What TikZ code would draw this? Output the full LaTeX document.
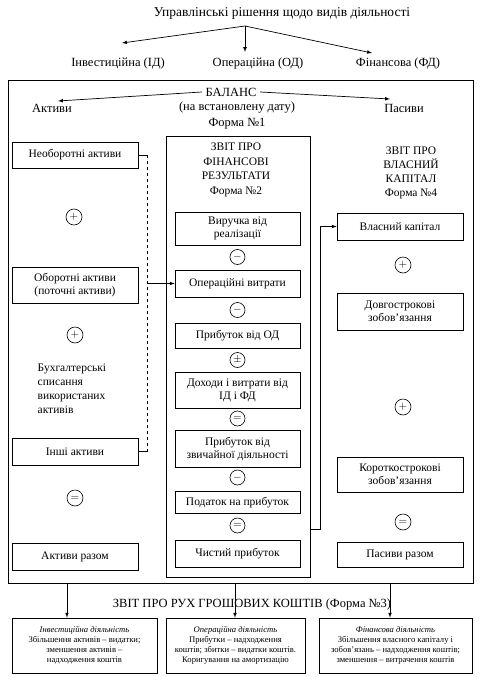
\documentclass[tikz,border=0pt]{standalone}
\usepackage{fontspec}
\setmainfont{Liberation Serif}
\usetikzlibrary{arrows}

\tikzset{
  frame/.style={draw, inner sep=0pt},
  box/.style={draw, minimum width=126, inner sep=1pt, align=center, font=\fontsize{11.5}{13}\selectfont},
  sign/.style={draw, circle, line width=0.6pt, minimum size=15, inner sep=0pt, font=\fontsize{11}{11}\selectfont},
  lbl/.style={align=center, font=\fontsize{12.5}{14}\selectfont},
  head/.style={align=center, font=\fontsize{11.5}{14.5}\selectfont},
  note/.style={draw, minimum height=55, inner sep=1pt, align=center, font=\fontsize{8.6}{10}\selectfont},
}

\begin{document}
\begin{tikzpicture}[x=1pt,y=-1pt,>=latex,line width=0.7pt]
  \useasboundingbox (0,0) rectangle (480,677);

  % top: management decisions
  \node[lbl, font=\fontsize{13.5}{15}\selectfont] (upr) at (282,13) {Управлінські рішення щодо видів діяльності};
  \coordinate (t0) at (245,26);
  \node[lbl] (id) at (118,63) {Інвестиційна (ІД)};
  \node[lbl] (od) at (258,63) {Операційна (ОД)};
  \node[lbl] (fd) at (398,63) {Фінансова (ФД)};
  \coordinate (t1) at (122,43);
  \coordinate (t2) at (245,52);
  \coordinate (t3) at (372,53);
  \draw[->] (t0) -- (t1);
  \draw[->] (t0) -- (t2);
  \draw[->] (t0) -- (t3);

  % frames
  \node[frame, minimum width=465, minimum height=503] (bal) at (240.5,331.5) {};
  \node[frame, minimum width=144, minimum height=441] (mid) at (238,356.5) {};

  % balance
  \node[lbl] (balans) at (231,92) {БАЛАНС};
  \node[lbl] (akt) at (52,108) {Активи};
  \node[lbl] (pas) at (404,108) {Пасиви};
  \node[lbl] (data) at (237,108) {(на встановлену дату)};
  \node[lbl] (f1) at (237,124) {Форма №1};
  \coordinate (b1) at (58,101);
  \coordinate (b2) at (390,99);
  \draw[->] (balans.west) -- (b1);
  \draw[->] (balans.east) -- (b2);

  % assets
  \node[box, minimum height=26] (nonc) at (75,155) {Необоротні активи};
  \node[sign, minimum size=16] (s1) at (74,217) {$+$};
  \node[box, minimum height=36] (curr) at (75,285) {Оборотні активи\\(поточні активи)};
  \node[sign, minimum size=16] (s2) at (75,335) {$+$};
  \node[anchor=north west, align=left, font=\fontsize{11.5}{14}\selectfont] (spys) at (34,360)
    {Бухгалтерські\\списання\\використаних\\активів};
  \node[box, minimum height=27] (other) at (75,451.5) {Інші активи};
  \node[sign, minimum size=16] (s3) at (75,498) {$=$};
  \node[box, minimum height=27] (tota) at (75,556.5) {Активи разом};

  \draw (nonc.east) -- ++(9,0) coordinate (d1);
  \draw (other.east) -- ++(9,0) coordinate (d2);
  \draw[dashed] (d1) -- (d2);

  % financial results
  \node[head] (f2) at (236,170) {ЗВІТ ПРО\\ФІНАНСОВІ\\РЕЗУЛЬТАТИ\\Форма №2};
  \node[box, minimum width=125, minimum height=33] (rev) at (237.5,228.5) {Виручка від\\реалізації};
  \node[sign] (m1) at (237.5,257) {$-$};
  \node[box, minimum width=125, minimum height=27] (opex) at (237.5,283.5) {Операційні витрати};
  \node[sign] (m2) at (237.5,310) {$-$};
  \node[box, minimum width=125, minimum height=25] (prod) at (237.5,335.5) {Прибуток від ОД};
  \node[sign] (m3) at (237.5,360) {$\pm$};
  \node[box, minimum width=125, minimum height=36] (inc) at (237.5,390) {Доходи і витрати від\\ІД і ФД};
  \node[sign] (m4) at (237.5,418.5) {$=$};
  \node[box, minimum width=125, minimum height=37] (pord) at (237.5,448.5) {Прибуток від\\звичайної діяльності};
  \node[sign] (m5) at (237.5,477.5) {$-$};
  \node[box, minimum width=125, minimum height=22] (tax) at (237.5,502.5) {Податок на прибуток};
  \node[sign] (m6) at (237.5,525.5) {$=$};
  \node[box, minimum width=125, minimum height=27] (net) at (237.5,553.5) {Чистий прибуток};

  \draw[->] (d1 |- opex.west) -- (opex.west);

  % equity and liabilities
  \node[head, font=\fontsize{11.5}{14}\selectfont] (f4) at (411,173) {ЗВІТ ПРО\\ВЛАСНИЙ\\КАПІТАЛ\\Форма №4};
  \node[box, minimum height=27] (eq) at (400,226.5) {Власний капітал};
  \node[sign, minimum size=16] (p1) at (403,265) {$+$};
  \node[box, minimum height=37] (lt) at (400,311.5) {Довгострокові\\зобов’язання};
  \node[sign, minimum size=16] (p2) at (403,407) {$+$};
  \node[box, minimum height=35] (st) at (400,474.5) {Короткострокові\\зобов’язання};
  \node[sign, minimum size=16] (p3) at (403,522) {$=$};
  \node[box, minimum height=25] (totp) at (400,554.5) {Пасиви разом};

  \coordinate (n1) at (320,529);
  \draw[->] (mid.east |- n1) -- (n1) |- (eq.west);

  % cash flow statement
  \node[lbl] (f3) at (252,604) {ЗВІТ ПРО РУХ ГРОШОВИХ КОШТІВ (Форма №3)};
  \node[note, minimum width=145] (cf1) at (84.5,645.5) {\textit{Інвестиційна діяльність}\\Збільшення активів – видатки;\\зменшення активів –\\надходження коштів};
  \node[note, minimum width=139] (cf2) at (235.5,645.5) {\textit{Операційна діяльність}\\Прибутки – надходження\\коштів; збитки – видатки коштів.\\Коригування на амортизацію};
  \node[note, minimum width=153] (cf3) at (395.5,645.5) {\textit{Фінансова діяльність}\\Збільшення власного капіталу і\\зобов’язань – надходження коштів;\\зменшення – витрачення коштів};

  \coordinate (c1) at (67,583);
  \coordinate (c2) at (235,583);
  \coordinate (c3) at (390,583);
  \draw[->] (c1) -- (c1 |- cf1.north);
  \draw[->] (c2) -- (c2 |- cf2.north);
  \draw[->] (c3) -- (c3 |- cf3.north);
\end{tikzpicture}
\end{document}
